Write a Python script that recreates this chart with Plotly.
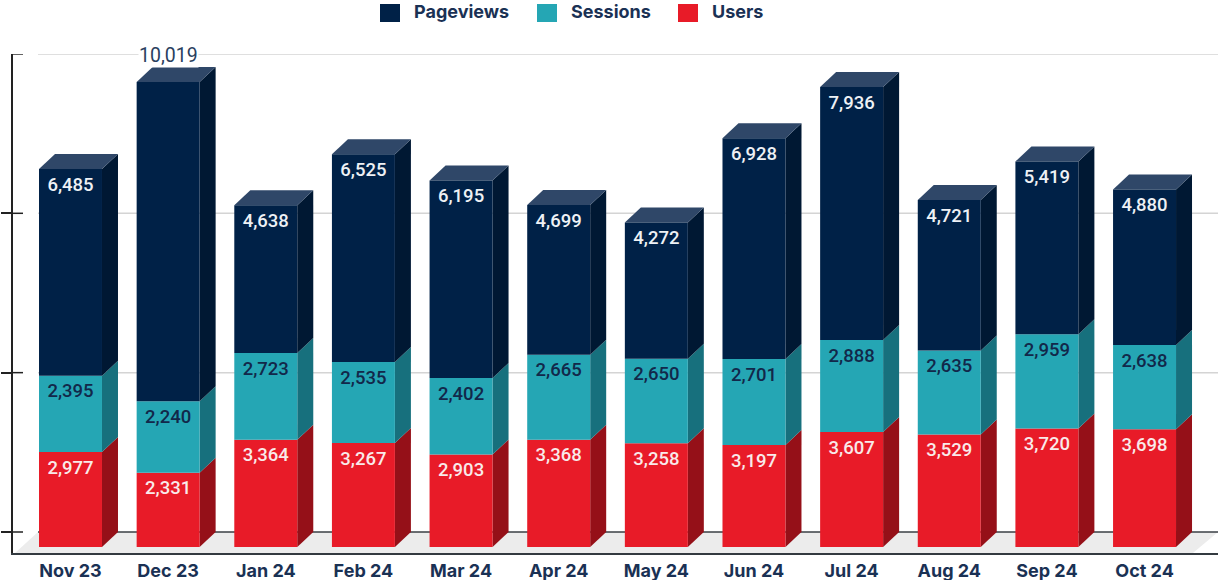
import plotly.graph_objects as go

months = ["Nov 23", "Dec 23", "Jan 24", "Feb 24", "Mar 24", "Apr 24",
          "May 24", "Jun 24", "Jul 24", "Aug 24", "Sep 24", "Oct 24"]
users = [2977, 2331, 3364, 3267, 2903, 3368, 3258, 3197, 3607, 3529, 3720, 3698]
sessions = [2395, 2240, 2723, 2535, 2402, 2665, 2650, 2701, 2888, 2635, 2959, 2638]
pageviews = [6485, 10019, 4638, 6525, 6195, 4699, 4272, 6928, 7936, 4721, 5419, 4880]
grid_values = [0, 5000, 10000, 15000]

W, H = 1218, 580
PX_LEFT, PX_RIGHT, PX_TOP, PX_BOTTOM = 13, 1218, 54, 553
PITCH = 97.64          # px per category
X0_PX = 70.5           # px of first category centre
PX_PER_UNIT = 0.03187  # px per value unit
BASE_PX = 547          # px of value 0 on the front plane
DEPTH_X_PX, DEPTH_Y_PX = 16, 15
LABEL_DROP_PX = 17
BAR_W = 0.645
FONT = "Inter"
LABEL_FONT = "Roboto"


def xv(px):
    return (px - X0_PX) / PITCH


def yv(px):
    return (BASE_PX - px) / PX_PER_UNIT


DX = DEPTH_X_PX / PITCH
DY = DEPTH_Y_PX / PX_PER_UNIT
DROP = LABEL_DROP_PX / PX_PER_UNIT
x = list(range(len(months)))

NAVY, NAVY_SIDE, NAVY_TOP = "#002147", "#001833", "#2f4768"
TEAL, TEAL_SIDE = "#25a6b4", "#17707d"
RED, RED_SIDE = "#e81b28", "#951018"
INK = "#1a3154"

series = [
    ("Users", users, RED, RED_SIDE, "#f9eaea"),
    ("Sessions", sessions, TEAL, TEAL_SIDE, "#12284a"),
    ("Pageviews", pageviews, NAVY, NAVY_SIDE, "#eef1f5"),
]

fig = go.Figure()
shapes = []


def poly(points, fill, layer="below"):
    path = "M" + " L".join(f"{a:.4f},{b:.2f}" for a, b in points) + " Z"
    return dict(type="path", xref="x", yref="y", path=path, fillcolor=fill,
                line=dict(width=0), layer=layer)


# floor
shapes.append(poly([(xv(15), yv(PX_BOTTOM)), (xv(38), yv(532)),
                    (xv(PX_RIGHT), yv(532)), (xv(1193), yv(PX_BOTTOM))], "#ececec"))
# back-wall grid lines
for g in grid_values:
    yy = g + DY
    is_zero = g == 0
    shapes.append(dict(type="line", xref="x", yref="y", x0=xv(38), x1=xv(PX_RIGHT), y0=yy, y1=yy,
                       line=dict(color="#3a3f45" if is_zero else "#d4d4d4", width=1.5), layer="below"))
    # inner half of the crossing tick
    shapes.append(dict(type="line", xref="x", yref="y", x0=xv(PX_LEFT), x1=xv(PX_LEFT + 10), y0=yy, y1=yy,
                       line=dict(color="#222222", width=1.5), layer="below"))

cum = [0] * len(months)
label_traces = []
for name, vals, col, side, tcol in series:
    top = [c + v for c, v in zip(cum, vals)]
    for i in x:
        xr = i + BAR_W / 2
        shapes.append(poly([(xr, cum[i]), (xr + DX, cum[i] + DY), (xr + DX, top[i] + DY), (xr, top[i])], side))
    is_top = name == "Pageviews"
    labels = [f"{v:,}" for v in vals]
    if is_top:
        inside = [("" if t + DY > grid_values[-1] else s) for s, t in zip(labels, top)]
        for i in x:
            xl = i - BAR_W / 2
            xr = i + BAR_W / 2
            shapes.append(poly([(xl, top[i]), (xl + DX, top[i] + DY), (xr + DX, top[i] + DY), (xr, top[i])], NAVY_TOP))
    else:
        inside = labels
    fig.add_trace(go.Bar(
        x=x, y=vals, base=cum, name=name, width=BAR_W, showlegend=False,
        marker=dict(color=col, line=dict(width=0)),
        hoverinfo="x+y+name",
    ))
    label_traces.append(go.Scatter(
        x=x, y=[t - DROP for t in top], mode="text", text=inside, textposition="middle center",
        textfont=dict(family=LABEL_FONT, size=18.5, color=tcol, weight=500),
        showlegend=False, hoverinfo="skip", cliponaxis=False,
    ))
    cum = top
for tr in label_traces:
    fig.add_trace(tr)

annotations = []
# the one label that sits above its bar
for i in x:
    if cum[i] + DY > grid_values[-1]:
        annotations.append(dict(x=i, y=cum[i] + DY, xref="x", yref="y", text=f"{pageviews[i]:,}",
                                showarrow=False, yanchor="bottom", yshift=-1, bgcolor="white",
                                font=dict(family=LABEL_FONT, size=19.5, color="#2a3f5f"),
                                borderpad=0))

# legend drawn to size
legend_items = [("Pageviews", NAVY, 380, 413), ("Sessions", TEAL, 537, 570), ("Users", RED, 678, 711)]
for name, col, sw, tx in legend_items:
    shapes.append(dict(type="rect", xref="paper", yref="paper",
                       x0=(sw - PX_LEFT) / (PX_RIGHT - PX_LEFT), x1=(sw + 20 - PX_LEFT) / (PX_RIGHT - PX_LEFT),
                       y0=(PX_BOTTOM - 22) / (PX_BOTTOM - PX_TOP), y1=(PX_BOTTOM - 4) / (PX_BOTTOM - PX_TOP),
                       fillcolor=col, line=dict(width=0), layer="above"))
    annotations.append(dict(x=(tx - PX_LEFT) / (PX_RIGHT - PX_LEFT), y=(PX_BOTTOM - 12) / (PX_BOTTOM - PX_TOP),
                            xref="paper", yref="paper", text=name, showarrow=False, xanchor="left",
                            yanchor="middle", xshift=0, borderpad=0,
                            font=dict(family=FONT, size=18, color=INK, weight=700)))

fig.update_layout(
    width=W, height=H, barmode="overlay", plot_bgcolor="white", paper_bgcolor="white",
    margin=dict(l=PX_LEFT, r=W - PX_RIGHT, t=PX_TOP, b=H - PX_BOTTOM, pad=0, autoexpand=False),
    showlegend=False, shapes=shapes, annotations=annotations,
    xaxis=dict(range=[xv(PX_LEFT), xv(PX_RIGHT)], tickvals=x, ticktext=months, ticks="",
               showgrid=False, zeroline=False, showline=True, linecolor="#333a40", linewidth=2,
               automargin=False,
               tickfont=dict(family=FONT, size=18, color=INK, weight=700), ticklabelstandoff=0),
    yaxis=dict(range=[yv(PX_BOTTOM), yv(PX_TOP)], tickvals=[g + DY for g in grid_values],
               automargin=False,
               showticklabels=False, ticks="outside", ticklen=10, tickwidth=1.5, tickcolor="#222222",
               showgrid=False, zeroline=False, showline=True, linecolor="#222222", linewidth=2),
)

fig.write_html("out.html", config={"displayModeBar": False},
               post_script="document.body.style.margin='0';")
